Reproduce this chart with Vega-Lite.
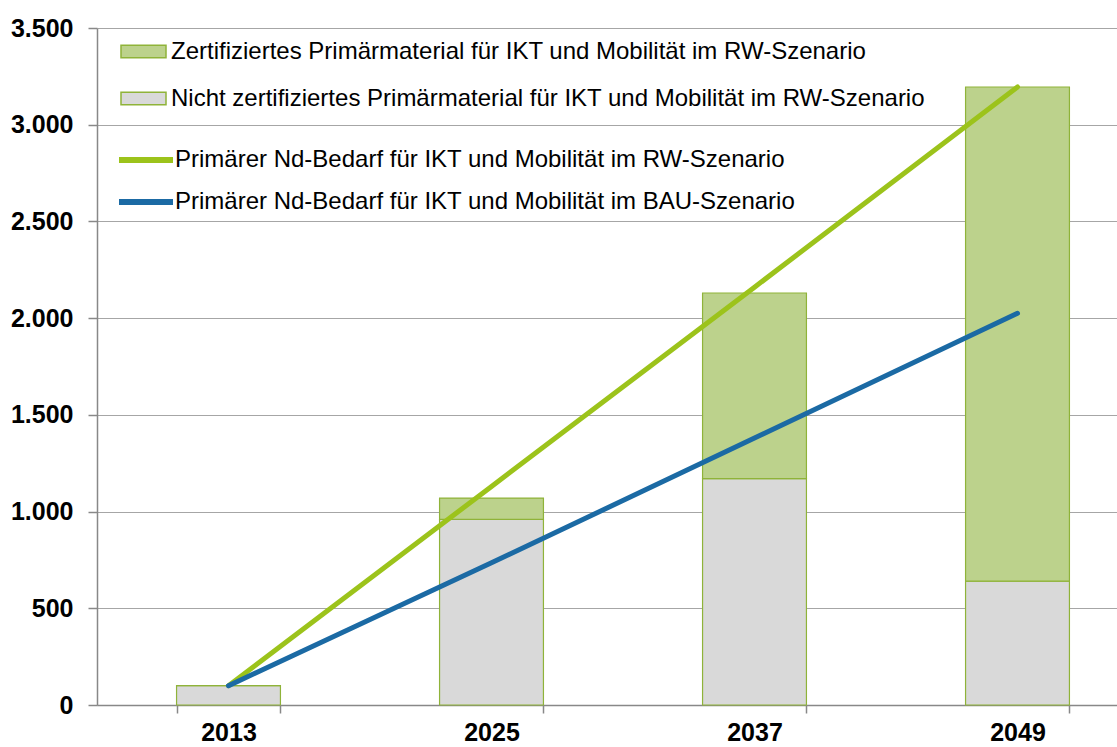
{
  "$schema": "https://vega.github.io/schema/vega-lite/v6.json",
  "autosize": "none",
  "width": 1052,
  "height": 677,
  "padding": {"left": 97, "top": 28, "right": 0, "bottom": 42},
  "background": "white",
  "config": {
    "font": "Liberation Sans",
    "view": {"stroke": null},
    "axis": {"labelFont": "Liberation Sans", "labelColor": "#000000"}
  },
  "datasets": {
    "bars": [
      {"jahr": "2013", "serie": "Nicht zertifiziertes Primärmaterial für IKT und Mobilität im RW-Szenario", "wert": 100},
      {"jahr": "2013", "serie": "Zertifiziertes Primärmaterial für IKT und Mobilität im RW-Szenario", "wert": 0},
      {"jahr": "2025", "serie": "Nicht zertifiziertes Primärmaterial für IKT und Mobilität im RW-Szenario", "wert": 960},
      {"jahr": "2025", "serie": "Zertifiziertes Primärmaterial für IKT und Mobilität im RW-Szenario", "wert": 110},
      {"jahr": "2037", "serie": "Nicht zertifiziertes Primärmaterial für IKT und Mobilität im RW-Szenario", "wert": 1170},
      {"jahr": "2037", "serie": "Zertifiziertes Primärmaterial für IKT und Mobilität im RW-Szenario", "wert": 960},
      {"jahr": "2049", "serie": "Nicht zertifiziertes Primärmaterial für IKT und Mobilität im RW-Szenario", "wert": 640},
      {"jahr": "2049", "serie": "Zertifiziertes Primärmaterial für IKT und Mobilität im RW-Szenario", "wert": 2555}
    ],
    "lines": [
      {"jahr": "2013", "serie": "Primärer Nd-Bedarf für IKT und Mobilität im RW-Szenario", "wert": 100},
      {"jahr": "2025", "serie": "Primärer Nd-Bedarf für IKT und Mobilität im RW-Szenario", "wert": 1130},
      {"jahr": "2037", "serie": "Primärer Nd-Bedarf für IKT und Mobilität im RW-Szenario", "wert": 2160},
      {"jahr": "2049", "serie": "Primärer Nd-Bedarf für IKT und Mobilität im RW-Szenario", "wert": 3195},
      {"jahr": "2013", "serie": "Primärer Nd-Bedarf für IKT und Mobilität im BAU-Szenario", "wert": 100},
      {"jahr": "2025", "serie": "Primärer Nd-Bedarf für IKT und Mobilität im BAU-Szenario", "wert": 735},
      {"jahr": "2037", "serie": "Primärer Nd-Bedarf für IKT und Mobilität im BAU-Szenario", "wert": 1380},
      {"jahr": "2049", "serie": "Primärer Nd-Bedarf für IKT und Mobilität im BAU-Szenario", "wert": 2025}
    ]
  },
  "encoding": {
    "x": {
      "field": "jahr", "type": "nominal",
      "scale": {"paddingInner": 0.605, "paddingOuter": 0.3025},
      "axis": {
        "title": null, "labelAngle": 0, "labelFontSize": 25, "labelFontWeight": "bold",
        "domainColor": "#888888", "domainWidth": 1.5, "tickColor": "#888888", "tickSize": 8, "tickWidth": 1.5,
        "tickBand": "extent", "labelPadding": 7, "grid": false
      }
    },
    "y": {
      "field": "wert", "type": "quantitative",
      "scale": {"domain": [0, 3500]},
      "axis": {
        "title": null, "values": [0, 500, 1000, 1500, 2000, 2500, 3000, 3500],
        "labelExpr": "replace(format(datum.value, ','), ',', '.')",
        "labelFontSize": 25, "labelFontWeight": "bold", "labelPadding": 15,
        "domainColor": "#888888", "domainWidth": 1.5, "tickColor": "#888888", "tickSize": 9, "tickWidth": 1.5,
        "grid": true, "gridColor": "#a6a6a6", "gridWidth": 1
      }
    }
  },
  "layer": [
    {
      "data": {"name": "bars"},
      "mark": {"type": "bar", "stroke": "#8fb339", "strokeWidth": 1.2},
      "encoding": {
        "y": {"field": "wert", "type": "quantitative", "stack": "zero"},
        "order": {"field": "serie", "sort": "ascending"},
        "fill": {
          "field": "serie", "type": "nominal",
          "scale": {
            "domain": ["Zertifiziertes Primärmaterial für IKT und Mobilität im RW-Szenario", "Nicht zertifiziertes Primärmaterial für IKT und Mobilität im RW-Szenario"],
            "range": ["#bcd28c", "#d9d9d9"]
          },
          "legend": {
            "title": null, "orient": "none", "legendX": 23, "legendY": 0,
            "symbolType": "M-1,-0.28H1V0.28H-1Z", "symbolSize": 2025,
            "symbolStrokeColor": "#8fb339", "symbolStrokeWidth": 1.5,
            "labelFontSize": 24, "labelLimit": 1000, "labelOffset": 4, "rowPadding": 11,
            "labelColor": "#000000"
          }
        }
      }
    },
    {
      "data": {"name": "lines"},
      "mark": {"type": "line", "strokeWidth": 5, "strokeCap": "round"},
      "encoding": {
        "stroke": {
          "field": "serie", "type": "nominal",
          "scale": {
            "domain": ["Primärer Nd-Bedarf für IKT und Mobilität im RW-Szenario", "Primärer Nd-Bedarf für IKT und Mobilität im BAU-Szenario"],
            "range": ["#9cc31b", "#1b6aa4"]
          },
          "legend": {
            "title": null, "orient": "none", "legendX": 19, "legendY": 102,
            "symbolType": "stroke", "symbolSize": 2916, "symbolStrokeWidth": 6,
            "labelFontSize": 24, "labelLimit": 1000, "labelOffset": -1, "rowPadding": -3,
            "labelColor": "#000000"
          }
        }
      }
    }
  ]
}
